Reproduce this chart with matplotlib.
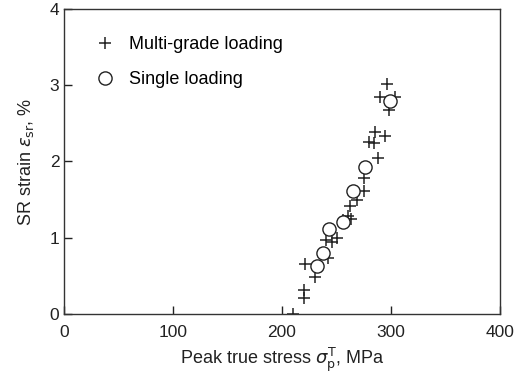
import matplotlib
matplotlib.use("Agg")
from matplotlib import pyplot as plt

plt.rcParams["font.family"] = ["Liberation Sans", "DejaVu Sans"]
plt.rcParams["mathtext.fontset"] = "dejavusans"

# multi-grade loading (plus markers)
multi_x = [296, 290, 304, 298, 285, 284, 280, 294.5, 288, 275, 275, 269, 262, 261, 263,
           256, 250, 246, 240, 242, 221, 230, 220, 220, 210]
multi_y = [3.01, 2.85, 2.85, 2.68, 2.39, 2.24, 2.25, 2.33, 2.04, 1.78, 1.61, 1.50, 1.41, 1.28, 1.25,
           1.23, 0.99, 0.95, 0.97, 0.73, 0.66, 0.49, 0.31, 0.21, 0.0]

# single loading (circles)
single_x = [299, 276, 265, 256, 243, 238, 232]
single_y = [2.79, 1.93, 1.61, 1.20, 1.11, 0.80, 0.63]

fig = plt.figure(figsize=(5.18, 3.76), dpi=100)
ax = fig.add_axes([0.124, 0.165, 0.841, 0.811])

ax.plot(multi_x, multi_y, linestyle="none", marker="+", markersize=8,
        markeredgewidth=1.1, color="#222222", label="Multi-grade loading")
ax.plot(single_x, single_y, linestyle="none", marker="o", markersize=9.5,
        markerfacecolor="white", markeredgewidth=1.0, color="#222222",
        label="Single loading")

ax.set_xlim(0, 400)
ax.set_ylim(0, 4)
ax.set_xticks([0, 100, 200, 300, 400])
ax.set_yticks([0, 1, 2, 3, 4])
ax.tick_params(direction="in", length=6, width=1, labelsize=12.5, colors="#222222")
ax.tick_params(axis="x", pad=8)
for s in ax.spines.values():
    s.set_linewidth(1.0)
    s.set_color("#333333")

ax.set_xlabel(r"Peak true stress $\sigma_{\rm p}^{\rm T}$, MPa", fontsize=13, color="#222222",
              labelpad=4)
ax.set_ylabel(r"SR strain $\varepsilon_{\rm sr}$, %", fontsize=13, color="#222222",
              labelpad=10)

ax.legend(loc="upper left", frameon=False, fontsize=13, handletextpad=0.3,
          labelspacing=1.0, bbox_to_anchor=(0.015, 0.965))

fig.savefig("out.png", dpi=100)
